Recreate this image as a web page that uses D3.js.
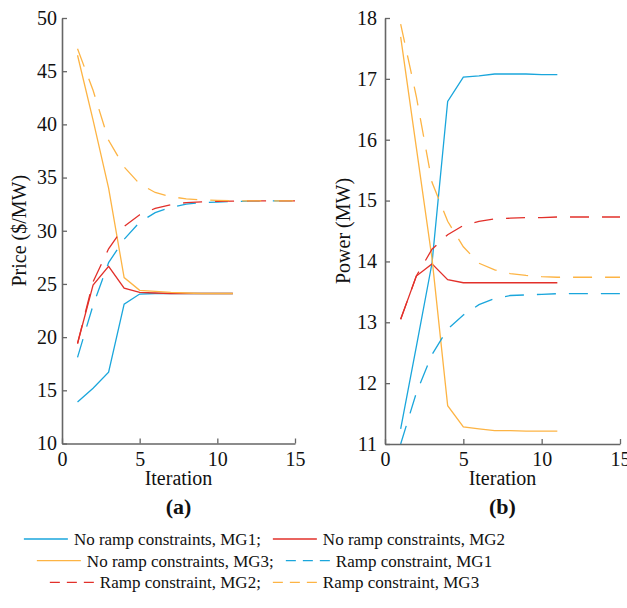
<!DOCTYPE html>
<html>
<head>
<meta charset="utf-8">
<script src="https://cdn.jsdelivr.net/npm/d3@7"></script>
<style>
  body { margin: 0; background: #fff; }
  svg text { font-family: "Liberation Serif", "Times New Roman", serif; }
</style>
</head>
<body>
<svg id="chart" width="627" height="608"></svg>
<script>
// iterations
const iterNoRamp = [1, 2, 3, 4, 5, 6, 7, 8, 9, 10, 11];
const iterRamp = [1, 2, 3, 4, 5, 6, 7, 8, 9, 10, 11, 12, 13, 14, 15];

// (a) price, $/MW
const priceNoRampMG1 = [13.9, 15.2, 16.7, 23.1, 24.05, 24.1, 24.1, 24.1, 24.1, 24.1, 24.1];
const priceNoRampMG2 = [19.4, 24.9, 26.65, 24.6, 24.2, 24.15, 24.1, 24.1, 24.1, 24.1, 24.1];
const priceNoRampMG3 = [46.5, 40.4, 34.0, 25.6, 24.4, 24.3, 24.2, 24.15, 24.1, 24.1, 24.1];
const priceRampMG1 = [18.1, 23.0, 27.0, 29.2, 30.8, 31.7, 32.2, 32.5, 32.65, 32.7, 32.75, 32.78, 32.8, 32.8, 32.8];
const priceRampMG2 = [19.4, 25.2, 28.3, 30.4, 31.5, 32.1, 32.45, 32.65, 32.72, 32.76, 32.78, 32.8, 32.8, 32.8, 32.8];
const priceRampMG3 = [47.1, 43.2, 38.5, 36.0, 34.4, 33.6, 33.2, 33.0, 32.9, 32.85, 32.82, 32.8, 32.8, 32.8, 32.8];

// (b) power, MW
const powerNoRampMG1 = [11.25, 12.6, 13.97, 16.63, 17.03, 17.05, 17.08, 17.08, 17.08, 17.07, 17.07];
const powerNoRampMG2 = [13.05, 13.76, 13.96, 13.70, 13.65, 13.65, 13.65, 13.65, 13.65, 13.65, 13.65];
const powerNoRampMG3 = [17.69, 15.87, 14.05, 11.63, 11.28, 11.25, 11.22, 11.22, 11.21, 11.21, 11.21];
const powerRampMG1 = [11.0, 11.84, 12.47, 12.89, 13.12, 13.29, 13.39, 13.44, 13.45, 13.46, 13.47, 13.47, 13.47, 13.47, 13.47];
const powerRampMG2 = [13.05, 13.76, 14.2, 14.44, 14.59, 14.66, 14.70, 14.71, 14.72, 14.72, 14.73, 14.73, 14.73, 14.73, 14.73];
const powerRampMG3 = [17.9, 16.71, 15.3, 14.66, 14.24, 13.97, 13.86, 13.80, 13.77, 13.75, 13.74, 13.74, 13.74, 13.74, 13.74];

const xTicks = [0, 5, 10, 15];
const priceTicks = [10, 15, 20, 25, 30, 35, 40, 45, 50];
const powerTicks = [11, 12, 13, 14, 15, 16, 17, 18];

const seriesNames = [
  'No ramp constraints, MG1', 'No ramp constraints, MG2', 'No ramp constraints, MG3',
  'Ramp constraint, MG1', 'Ramp constraint, MG2', 'Ramp constraint, MG3'
];

// styles
const blue = '#1aa6dc', red = '#e2302a', orange = '#fdb444';
const styles = [
  { color: blue, dash: null }, { color: red, dash: null }, { color: orange, dash: null },
  { color: blue, dash: '19,13' }, { color: red, dash: '19,13' }, { color: orange, dash: '19,13' }
];
const axisColor = '#666';
const serif = '"Liberation Serif", "Times New Roman", serif';

const svg = d3.select('#chart');

function drawPanel(cfg) {
  const x = d3.scaleLinear().domain([0, 15]).range([cfg.left, cfg.right]);
  const y = d3.scaleLinear().domain(cfg.yDomain).range([cfg.bottom, cfg.top]);

  const g = svg.append('g');

  // series
  cfg.series.forEach((vals, i) => {
    const xs = i < 3 ? iterNoRamp : iterRamp;
    const line = d3.line().x((d, j) => x(xs[j])).y(d => y(d));
    g.append('path')
      .datum(vals)
      .attr('d', line)
      .attr('fill', 'none')
      .attr('stroke', styles[i].color)
      .attr('stroke-width', 1.3)
      .attr('stroke-dasharray', styles[i].dash);
  });

  // axes, ticks pointing inward
  const xAxis = d3.axisBottom(x).tickValues(xTicks).tickFormat(d3.format('d'))
    .tickSizeInner(-5).tickSizeOuter(0).tickPadding(8);
  const yAxis = d3.axisLeft(y).tickValues(cfg.yTicks).tickFormat(d3.format('d'))
    .tickSizeInner(-5).tickSizeOuter(0).tickPadding(cfg.yPad);

  const gx = g.append('g').attr('transform', `translate(0,${cfg.bottom})`).call(xAxis);
  const gy = g.append('g').attr('transform', `translate(${cfg.left},0)`).call(yAxis);

  [gx, gy].forEach(a => {
    a.attr('font-family', serif).attr('font-size', 20);
    a.select('.domain').attr('stroke', axisColor).attr('stroke-width', 1.6);
    a.selectAll('.tick line').attr('stroke', axisColor).attr('stroke-width', 1.3);
    a.selectAll('.tick text').attr('fill', '#111');
  });

  const cx = (cfg.left + cfg.right) / 2;
  g.append('text')
    .attr('x', cx).attr('y', 485)
    .attr('text-anchor', 'middle')
    .attr('font-size', 20).attr('fill', '#111')
    .text('Iteration');

  g.append('text')
    .attr('x', cx).attr('y', 514)
    .attr('text-anchor', 'middle')
    .attr('font-size', 22).attr('font-weight', 'bold').attr('fill', '#111')
    .text(cfg.panel);

  g.append('text')
    .attr('transform', `translate(${cfg.labelX},${(cfg.top + cfg.bottom) / 2}) rotate(-90)`)
    .attr('text-anchor', 'middle')
    .attr('font-size', 20).attr('fill', '#111')
    .text(cfg.yLabel);
}

drawPanel({
  left: 62, right: 295, top: 18, bottom: 443.5,
  yDomain: [10, 50], yTicks: priceTicks, yPad: 5, labelX: 26,
  yLabel: 'Price ($/MW)', panel: '(a)',
  series: [priceNoRampMG1, priceNoRampMG2, priceNoRampMG3, priceRampMG1, priceRampMG2, priceRampMG3]
});

drawPanel({
  left: 385, right: 620, top: 18, bottom: 444,
  yDomain: [11, 18], yTicks: powerTicks, yPad: 8, labelX: 350,
  yLabel: 'Power (MW)', panel: '(b)',
  series: [powerNoRampMG1, powerNoRampMG2, powerNoRampMG3, powerRampMG1, powerRampMG2, powerRampMG3]
});

// legend: three centred rows of two entries
const legendRows = [[0, 1], [2, 3], [4, 5]];
const legendCenter = 264.5;
const lineLen = 44, lineGap = 6, entryGap = 12;

legendRows.forEach((row, r) => {
  const baseline = 545 + r * 21.7;
  const rowG = svg.append('g');
  let cursor = 0;
  row.forEach((si, k) => {
    const label = seriesNames[si] + (k === 0 ? ';' : '');
    rowG.append('line')
      .attr('x1', cursor).attr('x2', cursor + lineLen)
      .attr('y1', baseline - 6).attr('y2', baseline - 6)
      .attr('stroke', styles[si].color).attr('stroke-width', 1.3)
      .attr('stroke-dasharray', styles[si].dash ? '10,7' : null);
    const t = rowG.append('text')
      .attr('x', cursor + lineLen + lineGap).attr('y', baseline)
      .attr('font-size', 17).attr('fill', '#111')
      .text(label);
    cursor += lineLen + lineGap + t.node().getComputedTextLength() + entryGap;
  });
  const rowWidth = cursor - entryGap;
  rowG.attr('transform', `translate(${legendCenter - rowWidth / 2},0)`);
});
</script>
</body>
</html>
